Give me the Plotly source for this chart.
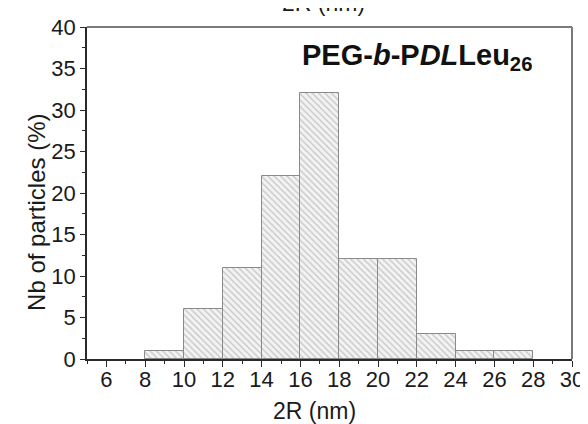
import plotly.graph_objects as go

bin_left = [8, 10, 12, 14, 16, 18, 20, 22, 24, 26]
bin_width = 2
percent = [1, 6, 11, 22, 32, 12, 12, 3, 1, 1]
x_ticks = [6, 8, 10, 12, 14, 16, 18, 20, 22, 24, 26, 28, 30]
y_ticks = [0, 5, 10, 15, 20, 25, 30, 35, 40]

centers = [b + bin_width / 2 for b in bin_left]
FONT = "Liberation Sans, Arial, sans-serif"
AX = "#2a2a2a"

fig = go.Figure()
fig.add_trace(go.Bar(
    x=centers, y=percent, width=[bin_width] * len(centers),
    marker=dict(
        color="#f2f2f2",
        line=dict(color="#8a8a8a", width=1),
        pattern=dict(shape="\\", fgcolor="#999999", bgcolor="#f3f3f3", size=4.5, solidity=0.3),
    ),
    showlegend=False,
))

# page body has an 8px default margin, so the figure is sized to the visible area
fig.update_layout(
    width=580, height=416,
    margin=dict(l=79, r=16, t=19, b=65),
    paper_bgcolor="white", plot_bgcolor="white",
    font=dict(family=FONT, size=22, color="#1a1a1a"),
    bargap=0,
    xaxis=dict(
        range=[5, 30], tickvals=x_ticks, ticks="outside", ticklen=6, tickwidth=1,
        tickcolor=AX, showline=True, linecolor=AX, linewidth=1.5, mirror=False,
        showgrid=False, zeroline=False, automargin=False, ticklabelstandoff=-6,
        minor=dict(dtick=1, tick0=5, ticks="outside", ticklen=3, tickcolor=AX),
        tickfont=dict(size=22),
    ),
    yaxis=dict(
        range=[0, 40], tickvals=y_ticks, ticks="outside", ticklen=5, tickwidth=1,
        tickcolor=AX, showline=True, linecolor=AX, linewidth=1.5, mirror=False,
        showgrid=False, zeroline=False, automargin=False,
        minor=dict(dtick=2.5, tick0=0, ticks="outside", ticklen=3, tickcolor=AX),
        tickfont=dict(size=22),
    ),
    shapes=[
        dict(type="line", xref="paper", yref="paper", x0=0, x1=1, y0=1, y1=1,
             line=dict(color="#7a7a7a", width=2)),
        dict(type="line", xref="paper", yref="paper", x0=1, x1=1, y0=0, y1=1,
             line=dict(color="#7a7a7a", width=2)),
    ],
    annotations=[
        dict(text="<b>PEG-<i>b</i>-P<i>DL</i>Leu<sub>26</sub></b>", xref="paper", yref="paper",
             x=0.681, y=0.91, showarrow=False, font=dict(size=29, color="#111"),
             xanchor="center", yanchor="middle"),
        dict(text="2R (nm)", xref="paper", yref="paper", x=0.47, y=0,
             yshift=-52, showarrow=False, font=dict(size=23, color="#1a1a1a"),
             xanchor="center", yanchor="middle"),
        dict(text="Nb of particles (%)", xref="paper", yref="paper", x=0, y=0.44,
             xshift=-50, textangle=-90, showarrow=False, font=dict(size=24, color="#1a1a1a"),
             xanchor="center", yanchor="middle"),
        dict(text="2R (nm)", xref="paper", yref="paper", x=0.487, y=1.0,
             yshift=9, showarrow=False, font=dict(size=23, color="#1a1a1a"),
             xanchor="center", yanchor="bottom"),
    ],
)

fig.write_html("out.html")
